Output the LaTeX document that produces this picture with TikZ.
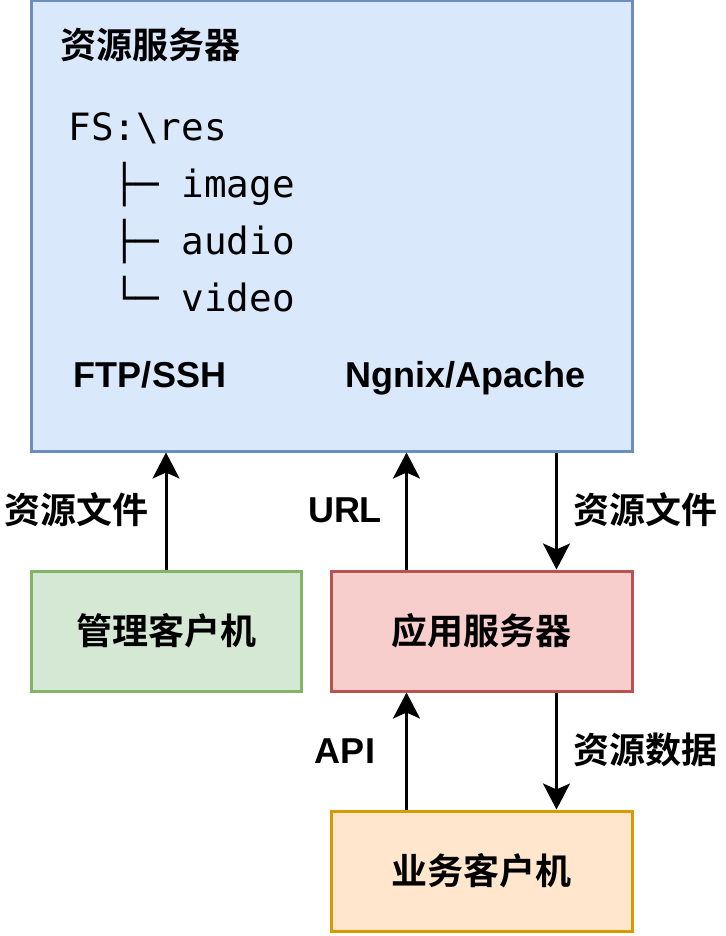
\documentclass[tikz,border=0pt]{standalone}
\usepackage{fontspec}
\setmainfont{Liberation Sans}
\newfontfamily\cjk{Noto Sans CJK SC}[BoldFont={* Bold}]
\newfontfamily\monofont{DejaVu Sans Mono}
\usetikzlibrary{arrows.meta}

\definecolor{resfill}{HTML}{DAE8FC}
\definecolor{resline}{HTML}{6C8EBF}
\definecolor{mgmtfill}{HTML}{D5E8D4}
\definecolor{mgmtline}{HTML}{82B366}
\definecolor{appfill}{HTML}{F8CECC}
\definecolor{appline}{HTML}{B85450}
\definecolor{bizfill}{HTML}{FFE6CC}
\definecolor{bizline}{HTML}{D79B00}

\tikzset{
  box/.style={draw, line width=1.5pt, inner sep=0pt, minimum height=60pt},
  zh/.style={font=\cjk\bfseries\fontsize{18}{20}\selectfont},
  en/.style={font=\bfseries\fontsize{18}{20}\selectfont, anchor=base},
  flow/.style={line width=1.5pt, -{Stealth[length=13pt,width=13.5pt,inset=3pt]}}
}

\begin{document}
\begin{tikzpicture}[x=0.5pt, y=-0.5pt]
  \useasboundingbox (0,0) rectangle (726,936);

  % Boxes
  \node[box, fill=resfill, draw=resline, minimum width=300.5pt, minimum height=225pt] (res) at (331.5,226) {};
  \node[box, fill=mgmtfill, draw=mgmtline, minimum width=135pt, zh] (mgmt) at (166,631) {管理客户机};
  \node[box, fill=appfill, draw=appline, minimum width=150.5pt, zh] (app) at (481.5,631) {应用服务器};
  \node[box, fill=bizfill, draw=bizline, minimum width=150.5pt, zh] (biz) at (481.5,871) {业务客户机};

  % Inside the resource server
  \node[zh, anchor=west, inner sep=0pt] (restitle) at (60,45) {资源服务器};
  \node[font=\monofont\fontsize{18.8}{28.5}\selectfont, align=left, anchor=north west, inner sep=0pt] (tree) at (68,112)
    {FS:\char92 res\\
     \ \ ├─ image\\
     \ \ ├─ audio\\
     \ \ └─ video};
  \node[en] (ftp) at (150,387) {FTP/SSH};
  \node[en] (web) at (465.5,387) {Ngnix/Apache};

  % Connectors
  \draw[flow] (mgmt.north) -- (mgmt.north |- res.south);
  \draw[flow] ([xshift=-37.5pt]app.north) -- ([xshift=-37.5pt]app.north |- res.south);
  \draw[flow] ([xshift=37.5pt]app.north |- res.south) -- ([xshift=37.5pt]app.north);
  \draw[flow] ([xshift=-37.5pt]biz.north) -- ([xshift=-37.5pt]app.south);
  \draw[flow] ([xshift=37.5pt]app.south) -- ([xshift=37.5pt]biz.north);

  % Labels
  \node[zh] (lblmgmt) at (76,510) {资源文件};
  \node[en] (lblurl) at (345,522) {URL};
  \node[zh] (lblfile) at (645,510) {资源文件};
  \node[en] (lblapi) at (345,763) {API};
  \node[zh] (lbldata) at (645,750) {资源数据};
\end{tikzpicture}
\end{document}
